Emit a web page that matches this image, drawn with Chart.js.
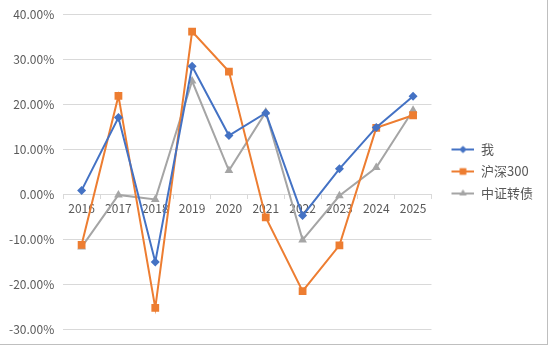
<!DOCTYPE html>
<html>
<head>
<meta charset="utf-8">
<script src="https://cdn.jsdelivr.net/npm/chart.js@4.4.0/dist/chart.umd.min.js"></script>
<style>
  html, body { margin: 0; padding: 0; background: #fff; }
  #wrap {
    position: relative;
    width: 548px;
    height: 345px;
    box-sizing: border-box;
    border-right: 1px solid #bfbfbf;
    border-bottom: 1px solid #bfbfbf;
  }
</style>
</head>
<body>
<div id="wrap"><canvas id="myChart"></canvas></div>
<script>
// data (yearly returns, %)
const years = ["2016", "2017", "2018", "2019", "2020", "2021", "2022", "2023", "2024", "2025"];
const mine = [0.8, 17.0, -15.1, 28.4, 13.0, 18.0, -4.8, 5.6, 14.8, 21.7];
const hs300 = [-11.3, 21.8, -25.3, 36.1, 27.2, -5.2, -21.6, -11.4, 14.7, 17.5];
const cbIndex = [-11.8, -0.2, -1.2, 25.1, 5.2, 18.2, -10.2, -0.4, 5.9, 18.6];
const yTicks = [-30, -20, -10, 0, 10, 20, 30, 40];

const blue = "#4472C4";
const orange = "#ED7D31";
const grey = "#A5A5A5";
const textColor = "#595959";
const gridColor = "#d9d9d9";
const font = "'Noto Sans CJK SC', 'Noto Sans', sans-serif";

// small line+marker icons for the legend, like the office legend
// (left part left empty so the legend sits a bit away from the plot)
const ICON_W = 34;
function legendIcon(color, style, r) {
  const c = document.createElement("canvas");
  c.width = ICON_W;
  c.height = 12;
  const g = c.getContext("2d");
  g.strokeStyle = color;
  g.lineWidth = 2;
  g.beginPath();
  g.moveTo(11, 6);
  g.lineTo(ICON_W, 6);
  g.stroke();
  g.fillStyle = color;
  Chart.helpers.drawPoint(g, { pointStyle: style, radius: r, borderWidth: 0 }, 22.5, 6);
  g.fill();
  return c;
}

document.addEventListener("DOMContentLoaded", function () {
  let ctx = document.getElementById("myChart").getContext("2d");
  const series = [
    { label: "我", data: mine, color: blue, style: "rectRot", r: 4.5 },
    { label: "沪深300", data: hs300, color: orange, style: "rect", r: 5.5 },
    { label: "中证转债", data: cbIndex, color: grey, style: "triangle", r: 5 },
  ];

  let myChart = new Chart(ctx, {
    type: "line",
    data: {
      labels: years,
      datasets: series.map((s) => ({
        label: s.label,
        data: s.data,
        borderColor: s.color,
        backgroundColor: s.color,
        borderWidth: 2,
        pointStyle: s.style,
        pointRadius: s.r,
        pointBorderWidth: 0,
        pointBackgroundColor: s.color,
        tension: 0,
        legendIcon: legendIcon(s.color, s.style, s.r - 1),
      })),
    },
    options: {
      responsive: true,
      maintainAspectRatio: false,
      animation: false,
      layout: { padding: { top: 14, right: 4, bottom: 15, left: 0 } },
      plugins: {
        tooltip: { enabled: false },
        legend: {
          position: "right",
          labels: {
            usePointStyle: true,
            pointStyleWidth: ICON_W,
            boxWidth: ICON_W,
            boxHeight: 12,
            padding: 9,
            color: textColor,
            font: { family: font, size: 13 },
            generateLabels: function (chart) {
              return chart.data.datasets.map((ds, i) => ({
                text: ds.label,
                pointStyle: ds.legendIcon,
                fillStyle: ds.borderColor,
                strokeStyle: ds.borderColor,
                lineWidth: 0,
                fontColor: textColor,
                hidden: false,
                datasetIndex: i,
              }));
            },
          },
        },
      },
      scales: {
        x: {
          position: { y: 0 },
          offset: true,
          grid: {
            offset: true,
            drawOnChartArea: false,
            drawTicks: true,
            tickLength: 4,
            color: gridColor,
          },
          border: { color: gridColor, width: 1 },
          ticks: {
            color: textColor,
            padding: 3,
            maxRotation: 0,
            font: { family: font, size: 12 },
          },
        },
        y: {
          min: yTicks[0],
          max: yTicks[yTicks.length - 1],
          afterBuildTicks: (axis) => {
            axis.ticks = yTicks.map((v) => ({ value: v }));
          },
          // don't let half the tick label height push the plot in
          afterFit: (axis) => {
            axis.paddingTop = 0;
            axis.paddingBottom = 0;
          },
          grid: { color: gridColor, drawTicks: false, lineWidth: 1 },
          border: { display: false },
          ticks: {
            color: textColor,
            padding: 9,
            font: { family: font, size: 12 },
            callback: (v) => v.toFixed(2) + "%",
          },
        },
      },
    },
  });
});
</script>
</body>
</html>
